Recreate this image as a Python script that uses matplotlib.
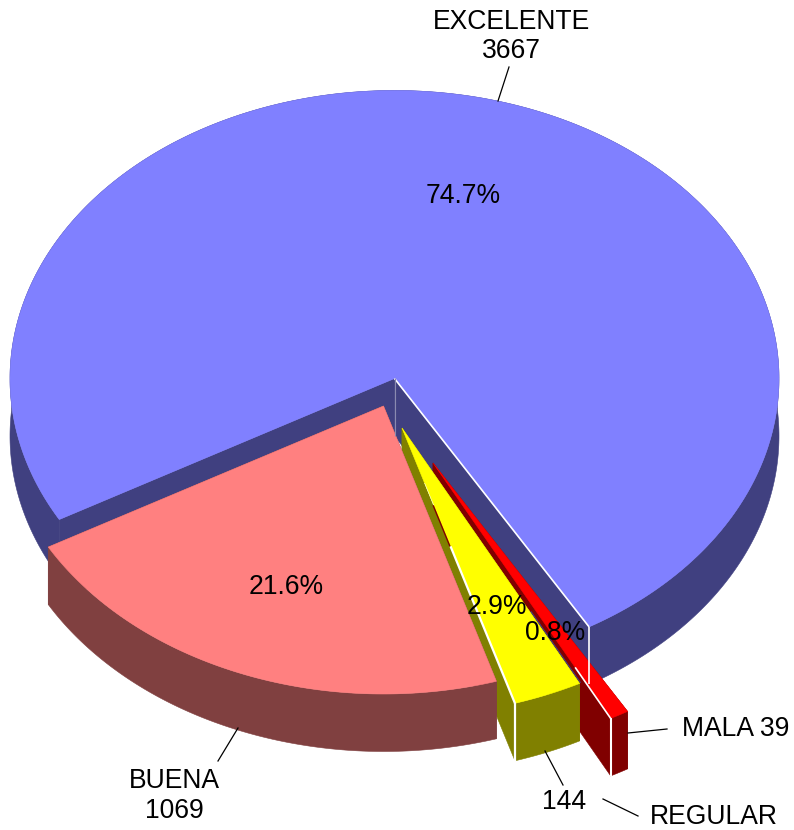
"""3D exploded pie: EXCELENTE / BUENA / REGULAR / MALA."""

import matplotlib
matplotlib.use("Agg")
import matplotlib.pyplot as plt
import numpy as np
from matplotlib.patches import Polygon

plt.rcParams["font.family"] = ["Liberation Sans", "DejaVu Sans"]

CATEGORIES = ["EXCELENTE", "BUENA", "REGULAR", "MALA"]
COUNTS = [3667, 1069, 144, 39]
PERCENTS = [74.7, 21.6, 2.9, 0.8]
TOP_COLORS = ["#8080FF", "#FF8080", "#FFFF00", "#FF0000"]
SIDE_COLORS = ["#404080", "#804040", "#808000", "#800000"]
OFFSETS = [(0, 0), (-11, 27.5), (7.5, 49.5), (38.5, 84.5)]  # explode, px

CX, CY, RX, RY, DEPTH = 394.5, 378.5, 384.5, 288, 57.5
START = 30.4  # degrees from straight down, running right -> top -> left
FONT = 19.1
DOWN = np.array([0, DEPTH])

fig = plt.figure(figsize=(7.94, 8.3), dpi=100)
ax = fig.add_axes([0, 0, 1, 1])
ax.set_xlim(0, 794)
ax.set_ylim(830, 0)
ax.axis("off")

edges = np.cumsum([START] + [p * 3.6 for p in PERCENTS])


def shape(i):
    """Apex and outer rim of slice i."""
    t0, t1 = edges[i], edges[i + 1]
    t = np.radians(np.linspace(t0, t1, max(int((t1 - t0) * 2), 8)))
    off = OFFSETS[i]
    arc = np.column_stack((CX + off[0] + RX * np.sin(t), CY + off[1] + RY * np.cos(t)))
    return np.array([CX + off[0], CY + off[1]]), arc


def draw_slice(i):
    """Cut faces, outer wall and top of slice i."""
    apex, arc = shape(i)
    for end in (arc[0], arc[-1]):
        ax.add_patch(Polygon([apex, end, end + DOWN, apex + DOWN],
                             fc=SIDE_COLORS[i], ec=SIDE_COLORS[i], lw=0.4))
    ax.add_patch(Polygon(np.vstack((arc, arc[::-1] + DOWN)),
                         fc=SIDE_COLORS[i], ec=SIDE_COLORS[i], lw=0.4))
    ax.add_patch(Polygon(np.vstack((apex, arc)), fc=TOP_COLORS[i], ec=TOP_COLORS[i], lw=0.4))
    return apex, arc


def edge(p, q, color, lw, start=0.0, stop=1.0, shift=(0, 0)):
    """Thin line on the part of an edge from p to q."""
    a = p + (q - p) * start + shift
    b = p + (q - p) * stop + shift
    ax.plot([a[0], b[0]], [a[1], b[1]], color=color, lw=lw, solid_capstyle="butt")


# painter's order: far slice, then MALA, REGULAR, BUENA
apex, arc = draw_slice(0)
edge(apex, arc[0], "white", 1.2)
edge(arc[0], arc[0] + DOWN, "white", 1.2)
edge(apex, apex + DOWN, "#8a8ab0", 0.8)

apex, arc = draw_slice(3)
edge(apex, arc[0], "white", 1.2, start=0.8)
edge(arc[0], arc[0] + DOWN, "white", 1.5)

apex, arc = draw_slice(2)
end_r = arc[-1]
edge(apex, end_r, SIDE_COLORS[0], 0.8, start=0.72, shift=(0.9, -0.6))
edge(apex, arc[0], SIDE_COLORS[3], 1.0, start=0.28, stop=0.43, shift=(-0.5, 0.2))
edge(apex, arc[0], "white", 0.4, start=0.2, stop=0.28)
edge(apex, arc[0], "white", 1.6, start=0.43)
edge(arc[0], arc[0] + DOWN, "white", 1.6)

draw_slice(1)

# leader lines
for xs, ys in [((498, 509), (101, 67)), ((238, 218), (728, 761)), ((545, 563), (751, 785)),
               ((603, 638), (799, 816)), ((628, 667), (733, 729))]:
    ax.plot(xs, ys, color="black", lw=0.9)

# category / count labels
ax.text(511.5, 22, CATEGORIES[0], fontsize=FONT, ha="center", va="center")
ax.text(511, 51, str(COUNTS[0]), fontsize=FONT, ha="center", va="center")
ax.text(174, 781, CATEGORIES[1], fontsize=FONT, ha="center", va="center")
ax.text(174.5, 811, str(COUNTS[1]), fontsize=FONT, ha="center", va="center")
ax.text(714, 817.3, CATEGORIES[2], fontsize=FONT, ha="center", va="center")
ax.text(564, 802, str(COUNTS[2]), fontsize=FONT, ha="center", va="center")
ax.text(736, 729, f"{CATEGORIES[3]} {COUNTS[3]}", fontsize=FONT, ha="center", va="center")

# percent labels
pct_pos = [(463.5, 196), (286.5, 587), (497, 607), (555.5, 633)]
for (x, y), p in zip(pct_pos, PERCENTS):
    ax.text(x, y, f"{p:.1f}%", fontsize=FONT, ha="center", va="center")

fig.savefig("out.png", dpi=100)
